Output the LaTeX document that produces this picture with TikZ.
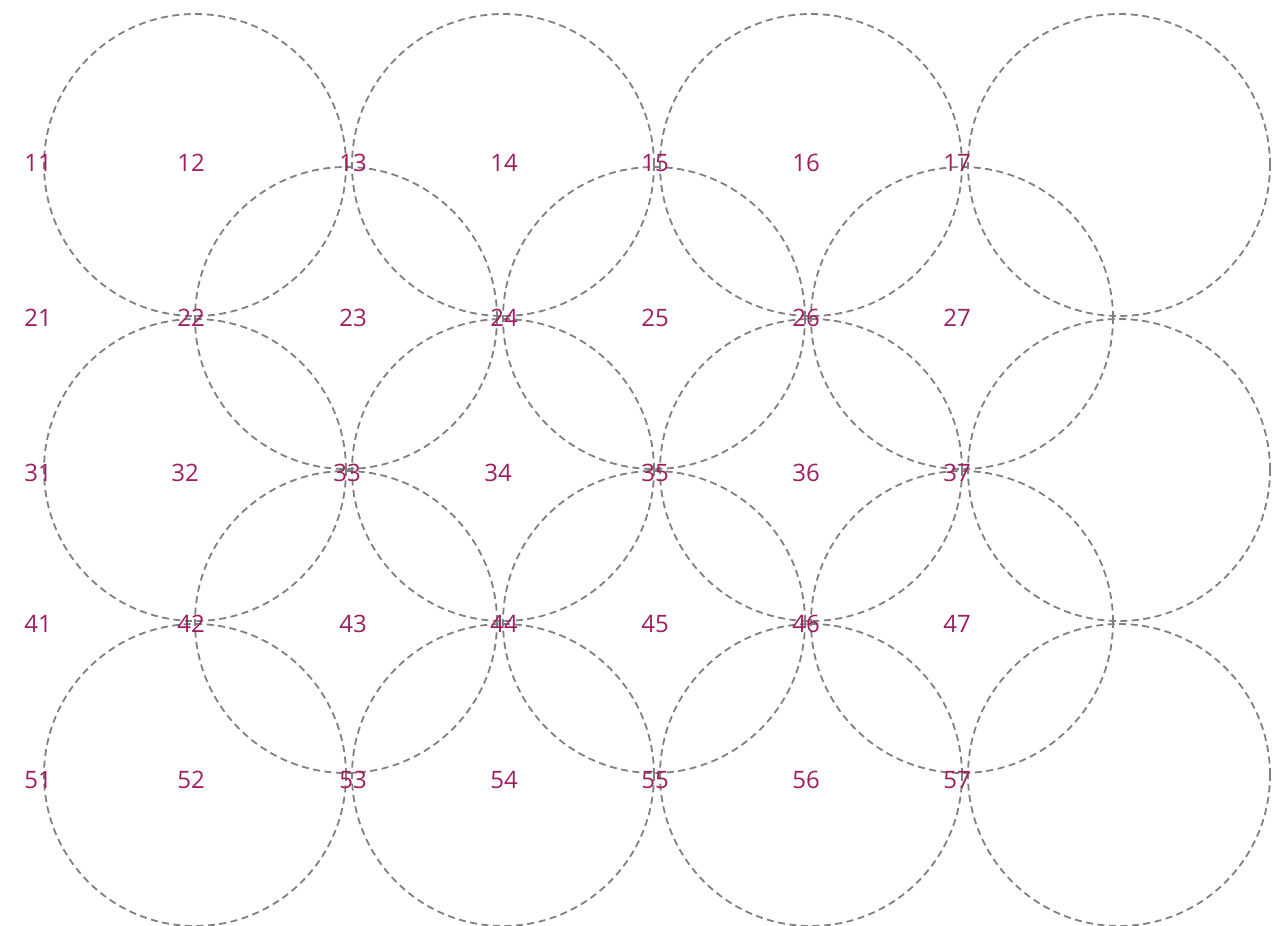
\documentclass[tikz,border=0pt]{standalone}
\usepackage{fontspec}
\setmainfont{Open Sans}
\definecolor{lbl}{RGB}{158,30,98}
\definecolor{ring}{RGB}{128,128,128}
\begin{document}
\begin{tikzpicture}[x=1pt,y=-1pt,
  ringnode/.style={circle,draw=ring,line width=1.8pt,dash pattern=on 7pt off 4.5pt,minimum size=302pt,inner sep=0pt},
  lab/.style={text=lbl,font=\fontsize{24}{24}\selectfont,inner sep=0pt,text depth=0pt,anchor=center}]
\useasboundingbox (0,0) rectangle (1280,926);
% circles
\foreach \cx [count=\i] in {195,503,811,1119}{
  \node[ringnode] (a\i) at (\cx,165) {};
  \node[ringnode] (c\i) at (\cx,470) {};
  \node[ringnode] (e\i) at (\cx,775) {};
}
\foreach \cx [count=\i] in {346,654,962}{
  \node[ringnode] (b\i) at (\cx,318) {};
  \node[ringnode] (d\i) at (\cx,622) {};
}
% labels
\foreach \r/\y in {1/163,2/318,4/624,5/780}{
  \foreach \c/\x in {1/38,2/191,3/353,4/504,5/655,6/806,7/957}{
    \node[lab] (l\r\c) at (\x,\y) {\r\c};
  }
}
\foreach \c/\x in {1/38,2/185,3/347,4/498,5/655,6/806,7/957}{
  \node[lab] (l3\c) at (\x,473) {3\c};
}
\end{tikzpicture}
\end{document}
